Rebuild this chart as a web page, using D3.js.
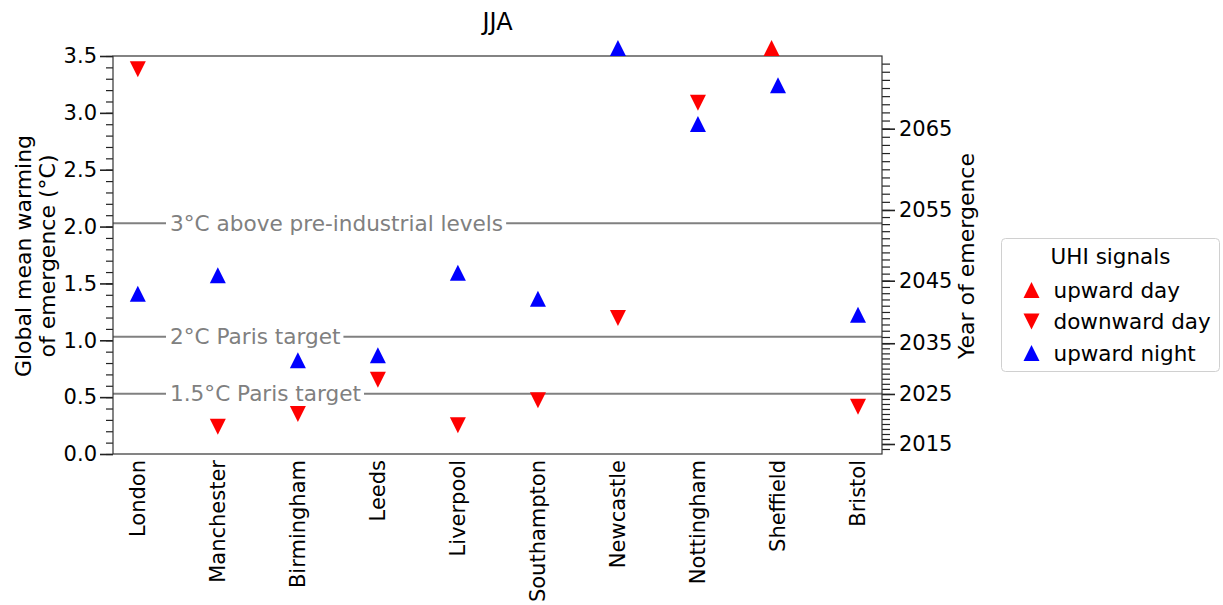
<!DOCTYPE html>
<html>
<head>
<meta charset="utf-8">
<script src="https://cdn.jsdelivr.net/npm/d3@7"></script>
<style>
    body { margin: 0; background: #fff; }
    text { font-family: "DejaVu Sans", sans-serif; }
</style>
</head>
<body>
<div id="chart"></div>
<script>
const cities = ["London", "Manchester", "Birmingham", "Leeds", "Liverpool",
    "Southampton", "Newcastle", "Nottingham", "Sheffield", "Bristol"];

// global mean warming of emergence (degC), null = no signal
const upwardDay   = [null, null, null, null, null, null, null, null, 3.57, null];
const downwardDay = [3.384, 0.240, 0.352, 0.653, 0.252, 0.472, 1.196, 3.089, null, 0.416];
const upwardNight = [1.41, 1.571, 0.824, 0.868, 1.593, 1.366, 3.57, 2.902, 3.242, 1.225];

// year of emergence axis: years and the warming they correspond to
const yearTicks   = [2015, 2025, 2035, 2045, 2055, 2065];
const yearWarming = [0.088, 0.528, 0.974, 1.524, 2.146, 2.861];

const thresholds = [2.03, 1.03, 0.53];
const thresholdLabels = ["3\u00B0C above pre-industrial levels", "2\u00B0C Paris target", "1.5\u00B0C Paris target"];

const W = 1223, H = 605;
const margin = { top: 56, right: 341, bottom: 151, left: 113 };
const width = W - margin.left - margin.right;
const height = H - margin.top - margin.bottom;

const svg = d3.select("#chart").append("svg")
    .attr("width", W)
    .attr("height", H);

const g = svg.append("g")
    .attr("transform", `translate(${margin.left}, ${margin.top})`);

const xScale = d3.scaleLinear().domain([-0.31, 9.3]).range([0, width]);
const yScale = d3.scaleLinear().domain([0, 3.5]).range([height, 0]);
const yearScale = d3.scaleLinear().domain(yearTicks).range(yearWarming);

// threshold lines with labels
thresholds.forEach((t, i) => {
    g.append("line")
        .attr("x1", 0).attr("x2", width)
        .attr("y1", yScale(t)).attr("y2", yScale(t))
        .attr("stroke", "#808080")
        .attr("stroke-width", 2);
    const lbl = g.append("text")
        .attr("x", 57)
        .attr("y", yScale(t))
        .attr("dy", "0.35em")
        .attr("font-size", 21.6)
        .attr("fill", "#808080")
        .text(thresholdLabels[i]);
    const bb = lbl.node().getBBox();
    g.insert("rect", "text:last-of-type")
        .attr("x", bb.x - 4).attr("y", yScale(t) - 3)
        .attr("width", bb.width + 7).attr("height", 6)
        .attr("fill", "#fff");
});

// left axis
const yAxisMinor = d3.axisLeft(yScale).tickValues(d3.range(0, 36).map(d => d / 10))
    .tickSize(7).tickSizeOuter(0).tickFormat("");
g.append("g").call(yAxisMinor)
    .call(a => a.select(".domain").remove())
    .call(a => a.selectAll("line").attr("stroke", "#222").attr("stroke-width", 1.2));

const yAxis = d3.axisLeft(yScale).tickValues(d3.range(0, 8).map(d => d / 2))
    .tickSize(13).tickSizeOuter(0).tickPadding(3).tickFormat(d3.format(".1f"));
g.append("g").call(yAxis)
    .call(a => a.select(".domain").remove())
    .call(a => a.selectAll("line").attr("stroke", "#222").attr("stroke-width", 1.6))
    .call(a => a.selectAll("text").attr("font-size", 21).attr("fill", "#000"));

// right axis (year of emergence)
const minorYears = d3.range(2013, 2080).map(yearScale).filter(w => w >= 0 && w <= 3.5);
const rAxisMinor = d3.axisRight(yScale).tickValues(minorYears)
    .tickSize(8).tickSizeOuter(0).tickFormat("");
g.append("g").attr("transform", `translate(${width}, 0)`).call(rAxisMinor)
    .call(a => a.select(".domain").remove())
    .call(a => a.selectAll("line").attr("stroke", "#222").attr("stroke-width", 1.2));

const rAxis = d3.axisRight(yScale).tickValues(yearWarming)
    .tickSize(13).tickSizeOuter(0).tickPadding(4)
    .tickFormat((d, i) => yearTicks[i]);
g.append("g").attr("transform", `translate(${width}, 0)`).call(rAxis)
    .call(a => a.select(".domain").remove())
    .call(a => a.selectAll("line").attr("stroke", "#222").attr("stroke-width", 1.6))
    .call(a => a.selectAll("text").attr("font-size", 21).attr("fill", "#000"));

// frame
g.append("rect")
    .attr("width", width).attr("height", height)
    .attr("fill", "none")
    .attr("stroke", "#333")
    .attr("stroke-width", 1.2);

// x labels
g.selectAll(".city")
    .data(cities)
    .enter()
    .append("text")
    .attr("class", "city")
    .attr("transform", (d, i) => `translate(${xScale(i)}, ${height + 6}) rotate(-90)`)
    .attr("text-anchor", "end")
    .attr("dy", "0.35em")
    .attr("font-size", 21)
    .text(d => d);

// markers
function triPath(s, down) {
    const h = s / 2;
    return down ? `M${-h},${-h}L${h},${-h}L0,${h}Z` : `M0,${-h}L${h},${h}L${-h},${h}Z`;
}

const series = [
    { values: upwardDay, color: "#ff0000", down: false, dodge: -0.08 },
    { values: downwardDay, color: "#ff0000", down: true, dodge: 0 },
    { values: upwardNight, color: "#0000ff", down: false, dodge: 0 }
];

series.forEach(s => {
    const pts = s.values.map((v, i) => ({ i, v })).filter(d => d.v !== null);
    g.selectAll(null)
        .data(pts)
        .enter()
        .append("path")
        .attr("d", triPath(16, s.down))
        .attr("transform", d => `translate(${xScale(d.i + s.dodge)}, ${yScale(d.v)})`)
        .attr("fill", s.color);
});

// title
svg.append("text")
    .attr("x", margin.left + width / 2)
    .attr("y", 30)
    .attr("text-anchor", "middle")
    .attr("font-size", 24)
    .text("JJA");

// y labels
svg.append("text")
    .attr("transform", "translate(31, 256) rotate(-90)")
    .attr("text-anchor", "middle")
    .attr("font-size", 22)
    .text("Global mean warming");
svg.append("text")
    .attr("transform", "translate(55, 256) rotate(-90)")
    .attr("text-anchor", "middle")
    .attr("font-size", 22)
    .text("of emergence (\u00B0C)");

svg.append("text")
    .attr("transform", "translate(974, 256) rotate(-90)")
    .attr("text-anchor", "middle")
    .attr("font-size", 22)
    .text("Year of emergence");

// legend
const legend = svg.append("g").attr("transform", "translate(1001.5, 238.5)");
legend.append("rect")
    .attr("width", 218).attr("height", 133)
    .attr("rx", 4)
    .attr("fill", "#fff")
    .attr("stroke", "#d0d0d0");
legend.append("text")
    .attr("x", 109).attr("y", 25)
    .attr("text-anchor", "middle")
    .attr("font-size", 21.5)
    .text("UHI signals");
const legendItems = [
    { label: "upward day", color: "#ff0000", down: false },
    { label: "downward day", color: "#ff0000", down: true },
    { label: "upward night", color: "#0000ff", down: false }
];
legendItems.forEach((d, i) => {
    const yy = 51.5 + i * 31.5;
    legend.append("path")
        .attr("d", triPath(16, d.down))
        .attr("transform", `translate(30, ${yy})`)
        .attr("fill", d.color);
    legend.append("text")
        .attr("x", 52).attr("y", yy)
        .attr("dy", "0.35em")
        .attr("font-size", 21.5)
        .text(d.label);
});
</script>
</body>
</html>
